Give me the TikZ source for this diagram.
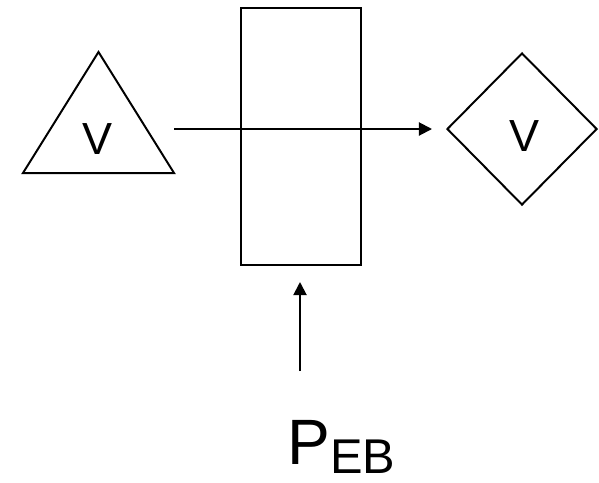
\documentclass[tikz,border=0pt]{standalone}
\usepackage{fontspec}
\setmainfont{Liberation Sans}
\usepackage{tikz}
\usetikzlibrary{
  arrows.meta,
  positioning,
  shapes.geometric,
  calc
}

\begin{document}
\begin{tikzpicture}[
  x=0.025cm, y=-0.025cm,
  srcshape/.style={isosceles triangle, isosceles triangle stretches, shape border rotate=90, draw, line width=1.4pt, minimum width=3.775cm, minimum height=3.025cm, inner sep=0pt},
  sinkshape/.style={diamond, draw, line width=1.4pt, minimum width=3.75cm, minimum height=3.8cm, inner sep=0pt},
  blockbox/.style={rectangle, draw, line width=1.9pt, minimum width=3cm, minimum height=6.425cm, inner sep=0pt},
  varlabel/.style={inner sep=0pt, font=\fontsize{32}{36}\selectfont},
  arr/.style={-{Triangle[length=0.33cm, width=0.33cm]}, line width=1.4pt},
]
\useasboundingbox (0,0) rectangle (599,482);

\node[srcshape, anchor=lower side] (src) at (98.5,174) {};
\node[varlabel] (srclab) at (98,139) {V};
\node[sinkshape] (sink) at (522,129) {};
\node[varlabel] (sinklab) at (525,136) {V};
\node[blockbox] (block) at (301,136.5) {};
\node[inner sep=0pt, anchor=base west, font=\fontsize{45.6}{50}\selectfont] (peb) at (287,464) {P\raisebox{-6.4pt}{\fontsize{34.7}{38}\selectfont EB}};

\coordinate (hstart) at (174,129);
\coordinate (hend) at (432,129);
\coordinate (vstart) at (300,371);
\coordinate (vend) at (300,282);

\draw[arr] (hstart) -- (hend);
\draw[arr] (vstart) -- (vend);

\end{tikzpicture}
\end{document}
